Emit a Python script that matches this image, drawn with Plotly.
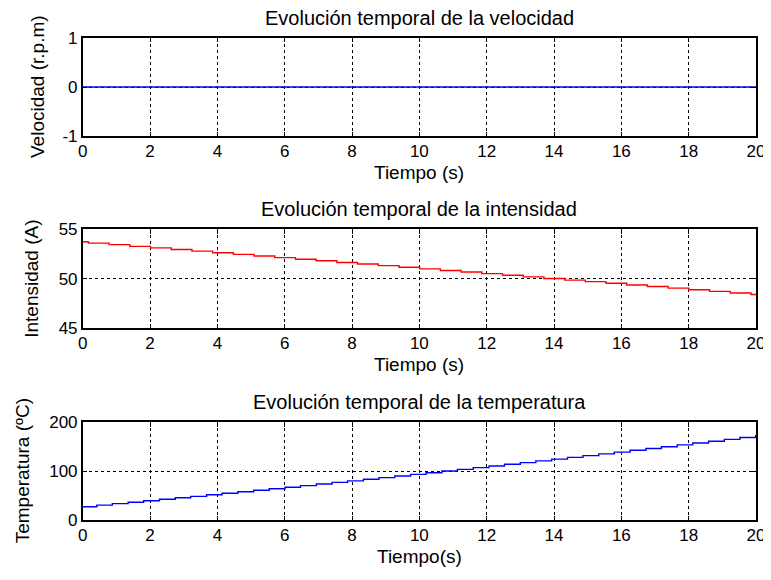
import plotly.graph_objects as go

# ---- data ----
vel_t = [0, 20]
vel_v = [0, 0]

int_t = [0, 0.17, 0.785, 1.40, 2.015, 2.63, 3.245, 3.86, 4.475, 5.09, 5.705, 6.32, 6.935,
         7.55, 8.165, 8.78, 9.395, 10.01, 10.625, 11.24, 11.855, 12.47, 13.085, 13.70,
         14.315, 14.93, 15.545, 16.16, 16.775, 17.39, 18.005, 18.62, 19.235, 19.85, 20]
int_v = [53.75, 53.6, 53.45, 53.28, 53.12, 52.96, 52.8, 52.63, 52.47, 52.3, 52.14, 51.98,
         51.82, 51.65, 51.49, 51.33, 51.17, 51.0, 50.84, 50.68, 50.52, 50.36, 50.19, 50.03,
         49.87, 49.71, 49.55, 49.38, 49.22, 49.06, 48.9, 48.73, 48.57, 48.41, 48.41]

temp_t = [0, 0.42, 0.88, 1.35, 1.81, 2.28, 2.75, 3.21, 3.68, 4.14, 4.61, 5.08, 5.54, 6.01,
          6.47, 6.94, 7.41, 7.87, 8.34, 8.80, 9.27, 9.74, 10.20, 10.67, 11.13, 11.60, 12.07,
          12.53, 13.00, 13.46, 13.93, 14.40, 14.86, 15.33, 15.79, 16.26, 16.73, 17.19, 17.66,
          18.12, 18.59, 19.06, 19.52, 19.99, 20]
temp_v = [27.8, 31.0, 34.0, 36.9, 39.9, 42.9, 45.9, 48.9, 52.0, 55.1, 58.2, 61.3, 64.5, 67.6,
          70.8, 74.0, 77.3, 80.5, 83.8, 87.1, 90.4, 93.8, 97.1, 100.5, 103.9, 107.4, 110.8,
          114.3, 117.8, 121.3, 124.8, 128.4, 132.0, 135.6, 139.2, 142.9, 146.5, 150.2, 153.9,
          157.7, 161.4, 165.2, 169.0, 172.5, 172.5]

x_ticks = [0, 2, 4, 6, 8, 10, 12, 14, 16, 18, 20]
vel_ticks = [-1, 0, 1]
vel_ticktext = ["-1", "0", "1"]
int_ticks = [45, 50, 55]
temp_ticks = [0, 100, 200]

titles = ["Evolución temporal de la velocidad",
          "Evolución temporal de la intensidad",
          "Evolución temporal de la temperatura"]
xlabels = ["Tiempo (s)", "Tiempo (s)", "Tiempo(s)"]
ylabels = ["Velocidad (r.p.m)", "Intensidad (A)", "Temperatura (ºC)"]

W, H = 771, 580
OFF = 8  # page body margin offset of the figure div
FONT = "Liberation Sans, Arial, sans-serif"

# plot boxes in target pixels (left, right / top, bottom), corrected for page offset
xl, xr = 82.7 - OFF, 756 - OFF
boxes = [(37.7 - OFF, 136.3 - OFF), (229.3 - OFF, 328.3 - OFF), (422.3 - OFF, 520.3 - OFF)]

fig = go.Figure()
fig.add_trace(go.Scatter(x=vel_t, y=vel_v, mode="lines", line=dict(color="#0000ff", width=1.4),
                         xaxis="x", yaxis="y", showlegend=False))
fig.add_trace(go.Scatter(x=int_t, y=int_v, mode="lines", line=dict(color="#ff0000", width=1.4, shape="hv"),
                         xaxis="x2", yaxis="y2", showlegend=False))
fig.add_trace(go.Scatter(x=temp_t, y=temp_v, mode="lines", line=dict(color="#0000ff", width=1.4, shape="hv"),
                         xaxis="x3", yaxis="y3", showlegend=False))

yranges = [[-1, 1], [45, 55], [0, 200]]
yticks = [vel_ticks, int_ticks, temp_ticks]
yticktexts = [vel_ticktext, [str(v) for v in int_ticks], [str(v) for v in temp_ticks]]

common = dict(showline=True, linecolor="black", linewidth=1.5, mirror="ticks",
              ticks="inside", ticklen=5, tickcolor="black", tickwidth=1,
              showgrid=True, gridcolor="black", gridwidth=1, griddash="dot",
              zeroline=False, automargin=False,
              tickfont=dict(family=FONT, size=17, color="black"))

layout = dict(width=W, height=H, margin=dict(l=0, r=0, t=0, b=0, pad=0, autoexpand=False),
              paper_bgcolor="white", plot_bgcolor="white", showlegend=False)
annotations = []
for i, (top, bot) in enumerate(boxes):
    sfx = "" if i == 0 else str(i + 1)
    dom_y = [1 - bot / H, 1 - top / H]
    layout["xaxis" + sfx] = dict(common, domain=[xl / W, xr / W], range=[0, 20],
                                 tickvals=x_ticks, anchor="y" + sfx, ticklabelstandoff=-1)
    layout["yaxis" + sfx] = dict(common, domain=dom_y, range=yranges[i],
                                 tickvals=yticks[i], ticktext=yticktexts[i], anchor="x" + sfx)
    cx = (xl + xr) / 2 / W
    annotations.append(dict(text=titles[i], x=cx, y=1 - (top - 20) / H, xref="paper", yref="paper",
                            showarrow=False, xanchor="center", yanchor="middle",
                            font=dict(family=FONT, size=20, color="black")))
    annotations.append(dict(text=xlabels[i], x=cx, y=1 - (bot + 36) / H, xref="paper", yref="paper",
                            showarrow=False, xanchor="center", yanchor="middle",
                            font=dict(family=FONT, size=19, color="black")))
lab_x = [37 - OFF, 32 - OFF, 22 - OFF]
for i, (top, bot) in enumerate(boxes):
    annotations.append(dict(text=ylabels[i], x=lab_x[i] / W, y=1 - (top + bot) / 2 / H,
                            xref="paper", yref="paper", showarrow=False, textangle=-90,
                            xanchor="center", yanchor="middle",
                            font=dict(family=FONT, size=19, color="black")))
layout["annotations"] = annotations
fig.update_layout(**layout)
fig.write_html("out.html")
